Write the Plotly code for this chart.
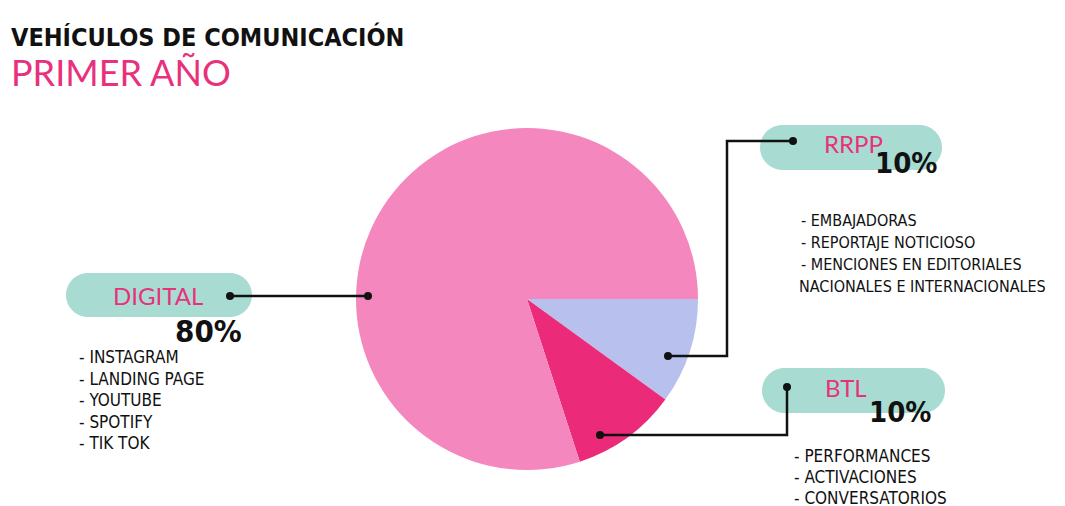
import plotly.graph_objects as go

W, H = 1065, 506
OFF = 8  # page body margin: keep coordinates in screen pixels

labels = ["RRPP", "BTL", "DIGITAL"]
values = [10, 10, 80]
colors = ["#B8C0EE", "#EC2A7A", "#F487BE"]

digital_items = ["- INSTAGRAM", "- LANDING PAGE", "- YOUTUBE", "- SPOTIFY", "- TIK TOK"]
rrpp_items = ["- EMBAJADORAS", "- REPORTAJE NOTICIOSO", "- MENCIONES EN EDITORIALES",
              "NACIONALES E INTERNACIONALES"]
btl_items = ["- PERFORMANCES", "- ACTIVACIONES", "- CONVERSATORIOS"]

PILL = "#A8DCD3"
PINK = "#E8317C"
COND = "DejaVu Sans Condensed, sans-serif"
LIGHT = "Lato, Noto Sans, sans-serif"

fig = go.Figure()

# pie centred near (527, 299) on screen, radius ~171 px
cx, cy, r = 527 - OFF, 299 - OFF, 171
fig.add_trace(go.Pie(
    labels=labels, values=values,
    marker=dict(colors=colors, line=dict(width=0)),
    sort=False, direction="clockwise", rotation=90,
    textinfo="none", hoverinfo="label+percent", showlegend=False,
    domain=dict(x=[(cx - r) / W, (cx + r) / W], y=[1 - (cy + r) / H, 1 - (cy - r) / H]),
))


def pill(x0, y0, x1, y1):
    rr = (y1 - y0) / 2
    k = 0.5523 * rr
    ym = (y0 + y1) / 2
    return (f"M {x0 + rr},{y0} L {x1 - rr},{y0} "
            f"C {x1 - rr + k},{y0} {x1},{ym - k} {x1},{ym} "
            f"C {x1},{ym + k} {x1 - rr + k},{y1} {x1 - rr},{y1} "
            f"L {x0 + rr},{y1} "
            f"C {x0 + rr - k},{y1} {x0},{ym + k} {x0},{ym} "
            f"C {x0},{ym - k} {x0 + rr - k},{y0} {x0 + rr},{y0} Z")


shapes = []
for box in [(66, 273, 252, 317), (760, 125, 942, 170), (762, 368, 945, 413)]:
    shapes.append(dict(type="path", path=pill(*box), fillcolor=PILL,
                       line=dict(width=0), layer="below"))

line = dict(color="#111111", width=2.5)
# connectors
shapes.append(dict(type="path", path="M 230,296 L 368,296", line=line, layer="above"))
shapes.append(dict(type="path", path="M 668,356 L 727,356 L 727,141 L 793,141", line=line, layer="above"))
shapes.append(dict(type="path", path="M 600,435 L 787,435 L 787,387", line=line, layer="above"))
for (px, py) in [(230, 296), (368, 296), (668, 356), (793, 141), (600, 435), (787, 387)]:
    shapes.append(dict(type="circle", x0=px - 4, x1=px + 4, y0=py - 4, y1=py + 4,
                       fillcolor="#111111", line=dict(width=0), layer="above"))
for s in shapes:
    s["xref"] = "x"
    s["yref"] = "y"

ann = []


def text(x, y, s, size, color="#111111", family=COND, anchor="left", weight="normal"):
    ann.append(dict(x=x, y=y, text=s, showarrow=False, xref="x", yref="y",
                    xanchor=anchor, yanchor="middle",
                    font=dict(size=size, color=color, family=family, weight=weight)))


text(9, 37, "VEHÍCULOS DE COMUNICACIÓN", 25, weight="bold")
text(9, 72, "PRIMER AÑO", 36, color=PINK, family=LIGHT)

text(158, 295, "DIGITAL", 24, color=PINK, family=LIGHT, anchor="center")
text(208, 331, "80%", 31, anchor="center", weight="bold")
text(853, 143, "RRPP", 24, color=PINK, family=LIGHT, anchor="center")
text(906, 163, "10%", 29, anchor="center", weight="bold")
text(846, 387, "BTL", 24, color=PINK, family=LIGHT, anchor="center")
text(900, 412, "10%", 29, anchor="center", weight="bold")

for i, s in enumerate(digital_items):
    text(77, 357 + i * 21.6, s, 17)
for i, s in enumerate(rrpp_items):
    text(799 if i < 3 else 797, 220 + i * 22.3, s, 16)
for i, s in enumerate(btl_items):
    text(792, 456 + i * 21, s, 17)

fig.update_layout(
    width=W, height=H,
    margin=dict(l=0, r=0, t=0, b=0),
    paper_bgcolor="white", plot_bgcolor="white",
    xaxis=dict(range=[OFF, W + OFF], visible=False, fixedrange=True),
    yaxis=dict(range=[H + OFF, OFF], visible=False, fixedrange=True),
    shapes=shapes, annotations=ann, showlegend=False,
)

fig.write_html("out.html")
